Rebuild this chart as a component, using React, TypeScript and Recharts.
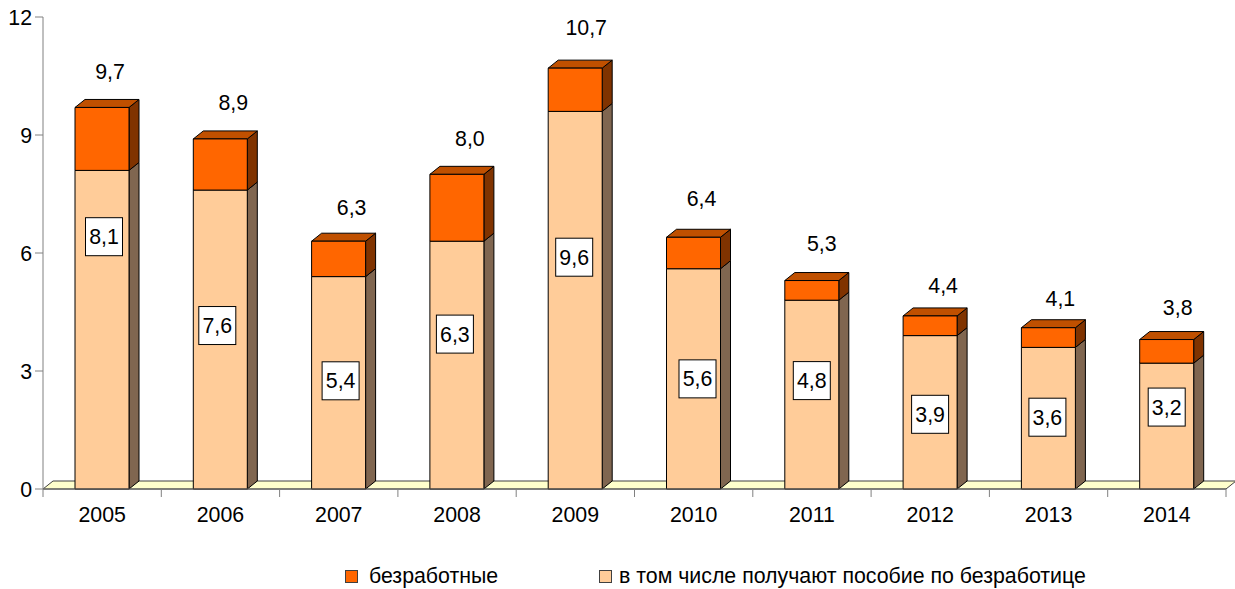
import { BarChart, Bar, XAxis, YAxis, LabelList, Legend, ReferenceArea } from "recharts";

const years = ["2005", "2006", "2007", "2008", "2009", "2010", "2011", "2012", "2013", "2014"];
const totals = [9.7, 8.9, 6.3, 8.0, 10.7, 6.4, 5.3, 4.4, 4.1, 3.8];
const recipients = [8.1, 7.6, 5.4, 6.3, 9.6, 5.6, 4.8, 3.9, 3.6, 3.2];
const yTicks = [0, 3, 6, 9, 12];

const UNEMPLOYED = "безработные";
const RECIPIENTS = "в том числе получают пособие по безработице";

// labels were hand-placed in the original, so each one has its own nudge (px)
const totalLabelNudge = [
  [8, -36], [13, -36], [13, -34], [13, -36], [11, -41],
  [8, -39], [10, -37], [13, -30], [12, -29], [11, -32],
];
const boxLabelNudge = [
  [2, -93], [-3, -14], [2, -2], [-2, -31], [-1, -43],
  [4, 0], [0, -14], [0, 2], [-1, -1], [0, -19],
];

const data = years.map((year, i) => ({
  year,
  total: totals[i],
  recipients: recipients[i],
  rest: Math.round((totals[i] - recipients[i]) * 10) / 10,
}));

const FONT = '"Liberation Sans", Arial, sans-serif';
const FONT_SIZE = 21.33;
const DEPTH_X = 10;
const DEPTH_Y = 8;
const formatValue = (v: number) => v.toFixed(1).replace(".", ",");

function Box3D({ x, y, width, height, fill, sideFill, topFill }: any) {
  return (
    <g stroke="#000" strokeWidth={1} strokeLinejoin="round">
      <path
        d={`M${x + width},${y} l${DEPTH_X},${-DEPTH_Y} v${height} l${-DEPTH_X},${DEPTH_Y} z`}
        fill={sideFill}
      />
      {topFill && (
        <path
          d={`M${x},${y} l${DEPTH_X},${-DEPTH_Y} h${width} l${-DEPTH_X},${DEPTH_Y} z`}
          fill={topFill}
        />
      )}
      <rect x={x} y={y} width={width} height={height} fill={fill} />
    </g>
  );
}

function Floor({ x, y, width }: any) {
  return (
    <path
      d={`M${x},${y} l${DEPTH_X},${-DEPTH_Y} h${width} l${-DEPTH_X},${DEPTH_Y} z`}
      fill="#FFFFCC"
      stroke="#404040"
    />
  );
}

function YearTick({ x, y, payload, index }: any) {
  const band = 118.3;
  return (
    <g>
      <line x1={x - band / 2} x2={x - band / 2} y1={y - 8} y2={y} stroke="#808080" />
      {index === years.length - 1 && (
        <line x1={x + band / 2} x2={x + band / 2} y1={y - 8} y2={y} stroke="#808080" />
      )}
      <text x={x} y={y + 25} textAnchor="middle" fontSize={FONT_SIZE} fontFamily={FONT} fill="#000">
        {payload.value}
      </text>
    </g>
  );
}

function TotalLabel({ x, y, width, index }: any) {
  const [dx, dy] = totalLabelNudge[index];
  return (
    <text
      x={x + width / 2 + dx}
      y={y + dy}
      dy="0.35em"
      textAnchor="middle"
      fontSize={FONT_SIZE}
      fontFamily={FONT}
      fill="#000"
    >
      {formatValue(totals[index])}
    </text>
  );
}

function BoxLabel({ x, y, width, height, index }: any) {
  const [dx, dy] = boxLabelNudge[index];
  const cx = x + width / 2 + dx;
  const cy = y + height / 2 + dy;
  return (
    <g>
      <rect x={cx - 18.5} y={cy - 19} width={37} height={38} fill="#fff" stroke="#000" />
      <text x={cx} y={cy} dy="0.35em" textAnchor="middle" fontSize={FONT_SIZE} fontFamily={FONT} fill="#000">
        {formatValue(recipients[index])}
      </text>
    </g>
  );
}

function ChartLegend() {
  const items = [
    { name: UNEMPLOYED, color: "#FF6600", left: 345, gap: 24 },
    { name: RECIPIENTS, color: "#FFCC99", left: 599, gap: 20 },
  ];
  return (
    <div>
      {items.map((item) => (
        <div
          key={item.name}
          style={{ position: "absolute", left: item.left, top: 0, whiteSpace: "nowrap", font: `${FONT_SIZE}px ${FONT}`, lineHeight: "24px" }}
        >
          <span
            style={{
              position: "absolute",
              left: 0,
              top: 6,
              width: 11,
              height: 11,
              background: item.color,
              border: "1px solid #404040",
            }}
          />
          <span style={{ marginLeft: item.gap }}>{item.name}</span>
        </div>
      ))}
    </div>
  );
}

export default function App() {
  return (
    <div style={{ position: "absolute", left: 0, top: 0, width: 1235, height: 589, background: "#fff" }}>
      <BarChart
        width={1235}
        height={589}
        data={data}
        barSize={54}
        margin={{ top: 17, right: 9, bottom: 0, left: 0 }}
      >
        <ReferenceArea yAxisId={0} y1={0} y2={0} shape={<Floor />} ifOverflow="visible" />
        <XAxis
          dataKey="year"
          height={100}
          interval={0}
          tick={<YearTick />}
          tickLine={false}
          axisLine={{ stroke: "#606060" }}
        />
        <YAxis
          width={43}
          domain={[0, 12]}
          ticks={yTicks}
          tickSize={8}
          tickMargin={3}
          interval={0}
          tick={{ fontSize: FONT_SIZE, fontFamily: FONT, fill: "#000" }}
          tickLine={{ stroke: "#808080" }}
          axisLine={{ stroke: "#808080" }}
        />
        <Legend
          content={<ChartLegend />}
          height={0}
          wrapperStyle={{ position: "absolute", left: 0, top: 564, width: 1235, height: 0, bottom: "auto" }}
        />
        <Bar
          dataKey="recipients"
          name={RECIPIENTS}
          stackId="a"
          fill="#FFCC99"
          isAnimationActive={false}
          shape={<Box3D sideFill="#806650" />}
        >
          <LabelList content={<BoxLabel />} />
        </Bar>
        <Bar
          dataKey="rest"
          name={UNEMPLOYED}
          stackId="a"
          fill="#FF6600"
          isAnimationActive={false}
          shape={<Box3D sideFill="#803300" topFill="#C05000" />}
        >
          <LabelList content={<TotalLabel />} />
        </Bar>
      </BarChart>
    </div>
  );
}
